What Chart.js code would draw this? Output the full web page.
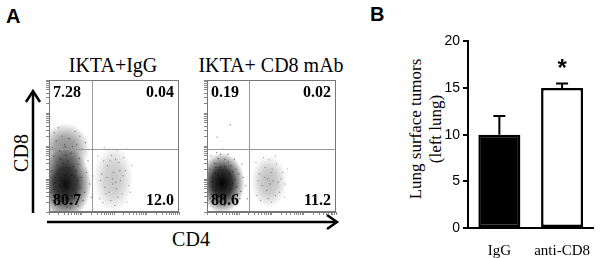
<!DOCTYPE html>
<html>
<head>
<meta charset="utf-8">
<script src="https://cdn.jsdelivr.net/npm/chart.js@4.4.0/dist/chart.umd.min.js"></script>
<style>
  html, body { margin: 0; padding: 0; background: #fff; }
  #fig { position: relative; width: 601px; height: 258px; overflow: hidden; }
  canvas, svg, .lbl { position: absolute; }
  .lbl { white-space: nowrap; line-height: 1; color: #000; }
  .serif { font-family: "Liberation Serif", "Times New Roman", serif; font-size: 20px; }
  .ytitle { font-family: "Liberation Serif", "Times New Roman", serif; font-size: 17px; }
  .panel { font-family: "Liberation Sans", Arial, sans-serif; font-weight: bold; font-size: 20px; }
</style>
</head>
<body>
<div id="fig">
  <svg width="601" height="258" style="left:0;top:0">
    <g stroke="#000" stroke-width="2.5" fill="none">
      <line x1="33" y1="213" x2="33" y2="92"/>
      <polyline points="26,102 33,91 40,102"/>
      <line x1="47" y1="222" x2="336" y2="222"/>
      <polyline points="327,215 337,222 327,229"/>
    </g>
  </svg>
  <div class="lbl panel" style="left:6px;top:6px">A</div>
  <div class="lbl panel" style="left:370px;top:4px">B</div>
  <div class="lbl serif" style="left:113px;top:55px;transform:translateX(-50%)">IKTA+IgG</div>
  <div class="lbl serif" style="left:271px;top:55px;transform:translateX(-50%)">IKTA+ CD8 mAb</div>
  <div class="lbl serif" style="left:21px;top:153px;transform:translate(-50%,-50%) rotate(-90deg)">CD8</div>
  <div class="lbl serif" style="left:191px;top:229px;transform:translateX(-50%)">CD4</div>
  <div class="lbl ytitle" style="left:415px;top:129px;transform:translate(-50%,-50%) rotate(-90deg)">Lung surface tumors</div>
  <div class="lbl ytitle" style="left:435px;top:129px;transform:translate(-50%,-50%) rotate(-90deg)">(left lung)</div>
  <canvas id="iggPlot" width="149" height="146" style="left:40px;top:74px"></canvas>
  <canvas id="cd8Plot" width="148" height="146" style="left:198px;top:74px"></canvas>
  <canvas id="barPlot" width="191" height="228" style="left:405px;top:30px"></canvas>
</div>
<script>
// Panel A: flow plots, CD4 (x) vs CD8 (y), in log decades 0..4
const iggQuads = ['7.28', '0.04', '80.7', '12.0'];   // UL, UR, LL, LR
const cd8Quads = ['0.19', '0.02', '88.6', '11.2'];
const iggGate = [1.32, 1.91];
const cd8Gate = [1.30, 1.91];

// density summaries of each population (centre, spread, relative density)
const iggClouds = [
  { x: 0.50, y: 0.85, sx: 0.80, sy: 1.10, d: 0.95 },
  { x: 0.50, y: 1.90, sx: 0.75, sy: 0.80, d: 0.45 },
  { x: 1.98, y: 1.00, sx: 0.60, sy: 1.00, d: 0.22 }
];
const cd8Clouds = [
  { x: 0.47, y: 0.88, sx: 0.70, sy: 0.92, d: 1.0 },
  { x: 1.92, y: 0.92, sx: 0.55, sy: 0.80, d: 0.25 }
];

const iggDN = [
  [0.12,0.35],[0.28,0.62],[0.45,0.28],[0.61,0.55],[0.78,0.41],[0.95,0.73],[0.18,0.88],[0.36,1.05],[0.52,0.82],[0.70,1.12],
  [0.88,0.95],[1.10,0.60],[0.08,1.25],[0.24,1.42],[0.41,1.30],[0.58,1.55],[0.76,1.38],[0.93,1.62],[1.15,1.20],[0.15,1.70],
  [0.33,1.85],[0.50,1.98],[0.68,1.78],[0.85,2.05],[1.02,1.90],[0.22,2.15],[0.40,2.30],[0.62,2.22],[0.80,2.45],[0.30,2.55],
  [0.05,0.60],[0.20,0.20],[0.38,0.45],[0.55,0.15],[0.72,0.25],[0.90,0.18],[1.05,0.35],[1.25,0.85],[1.30,0.45],[1.20,1.55],
  [0.46,0.66],[0.32,0.78],[0.64,0.92],[0.27,1.15],[0.49,1.10],[0.83,1.25],[0.60,0.38],[0.14,0.50],[0.74,0.68],[0.40,0.95],
  [0.56,1.35],[0.36,1.60],[0.10,1.95],[0.72,1.98],[0.95,2.30],[0.48,2.05],[1.12,2.10],[0.26,0.35],[0.66,0.12],[0.84,0.58],
  [0.44,1.48],[0.20,1.05],[1.00,1.05],[0.58,0.72],[0.34,0.22],[0.52,1.72],[0.16,2.40],[0.90,1.45],[1.35,1.10],[0.70,0.50]
];
const iggCD4 = [
  [1.55,0.40],[1.72,0.75],[1.90,0.35],[2.05,0.90],[2.25,0.55],[2.45,0.80],[1.62,1.15],[1.80,1.40],[1.98,1.20],[2.15,1.50],
  [2.35,1.25],[1.50,1.70],[1.70,1.95],[1.92,1.72],[2.10,1.88],[2.30,1.65],[1.85,0.60],[2.02,0.20],[2.20,0.95],[2.55,1.40],
  [1.66,0.28],[1.78,1.05],[1.96,0.85],[2.12,0.45],[2.40,0.30],[1.58,0.95],[2.28,1.10],[2.05,1.60],[1.88,1.55],[2.50,0.60],
  [1.75,0.55],[2.18,1.25],[1.95,1.00],[2.08,0.70],[1.68,1.55],[2.38,1.90]
];
const cd8DN = [
  [0.10,0.40],[0.26,0.65],[0.42,0.30],[0.58,0.58],[0.75,0.42],[0.92,0.75],[0.16,0.92],[0.34,1.10],[0.50,0.85],[0.68,1.15],
  [0.85,0.98],[1.05,0.62],[0.08,1.30],[0.24,1.48],[0.40,1.35],[0.56,1.60],[0.74,1.40],[0.90,1.30],[1.12,1.05],[0.30,1.80],
  [0.48,1.90],[0.65,1.75],[0.20,0.25],[0.36,0.48],[0.54,0.20],[0.70,0.28],[0.88,0.22],[1.02,0.40],[1.20,0.80],[1.25,0.40],
  [0.45,0.68],[0.30,0.82],[0.62,0.95],[0.25,1.18],[0.47,1.12],[0.80,1.22],[0.60,0.40],[0.13,0.55],[0.72,0.70],[0.38,0.98],
  [0.55,1.38],[0.35,1.62],[0.12,1.70],[0.85,1.60],[0.44,0.22],[0.98,1.15],[0.58,0.75],[0.32,0.35],[0.66,1.52],[0.18,1.05],
  [0.78,0.88],[0.52,1.02],[0.28,1.35],[1.08,1.45],[0.95,0.55],[0.42,1.75],[0.72,2.64],[0.31,2.27]
];
const cd8CD4 = [
  [1.55,0.50],[1.72,0.80],[1.90,0.40],[2.05,0.95],[2.25,0.60],[2.42,0.85],[1.62,1.15],[1.80,1.35],[1.98,1.20],[2.15,1.45],
  [2.35,1.20],[1.52,1.50],[1.75,1.65],[1.92,1.58],[2.12,1.70],[2.30,1.00],[1.85,0.65],[2.00,0.30],[2.20,0.90],[2.50,1.30],
  [1.66,0.35],[1.78,1.05],[1.96,0.85],[2.12,0.50],[2.40,0.45],[1.58,0.95],[1.88,1.00],[2.02,1.30]
];

// Panel B: bar chart
const barLabels = ['IgG', 'anti-CD8'];
const barMeans = [10, 15];
const barErr = [2, 0.5];
const barSig = ['', '*'];

function decadeTicks(scale) {
  const ticks = [];
  for (let d = 0; d < 4; d++) {
    for (let k = 1; k < 10; k++) ticks.push({ value: d + Math.log10(k) });
  }
  ticks.push({ value: 4 });
  scale.ticks = ticks;
}

function makeFlowPlugin(clouds, gate, quads) {
  return {
    id: 'flow',
    beforeDatasetsDraw(chart) {
      const { ctx, chartArea: a, scales: { x, y } } = chart;
      ctx.save();
      ctx.beginPath();
      ctx.rect(a.left, a.top, a.width, a.height);
      ctx.clip();
      clouds.forEach(c => {
        const cx = x.getPixelForValue(c.x), cy = y.getPixelForValue(c.y);
        const rx = Math.abs(x.getPixelForValue(c.x + c.sx) - cx);
        const ry = Math.abs(y.getPixelForValue(c.y + c.sy) - cy);
        ctx.save();
        ctx.translate(cx, cy);
        ctx.scale(1, ry / rx);
        const g = ctx.createRadialGradient(0, 0, 0, 0, 0, rx);
        g.addColorStop(0, `rgba(0,0,0,${c.d})`);
        g.addColorStop(0.45, `rgba(0,0,0,${c.d * 0.8})`);
        g.addColorStop(0.8, `rgba(0,0,0,${c.d * 0.3})`);
        g.addColorStop(1, 'rgba(0,0,0,0)');
        ctx.fillStyle = g;
        ctx.beginPath();
        ctx.arc(0, 0, rx, 0, Math.PI * 2);
        ctx.fill();
        ctx.restore();
      });
      ctx.restore();
    },
    afterDatasetsDraw(chart) {
      const { ctx, chartArea: a, scales: { x, y } } = chart;
      const gx = Math.round(x.getPixelForValue(gate[0])) + 0.5;
      const gy = Math.round(y.getPixelForValue(gate[1])) + 0.5;
      ctx.save();
      ctx.strokeStyle = '#999';
      ctx.lineWidth = 1;
      ctx.beginPath();
      ctx.moveTo(gx, a.top); ctx.lineTo(gx, a.bottom);
      ctx.moveTo(a.left, gy); ctx.lineTo(a.right, gy);
      ctx.stroke();
      ctx.strokeStyle = '#777';
      ctx.strokeRect(a.left + 0.5, a.top + 0.5, a.width - 1, a.height - 1);
      // quadrant percentages
      ctx.fillStyle = '#000';
      ctx.font = 'bold 16px "Liberation Serif"';
      ctx.textAlign = 'left';
      ctx.fillText(quads[0], a.left + 4, a.top + 17);
      ctx.fillText(quads[2], a.left + 4, a.bottom - 7);
      ctx.textAlign = 'right';
      ctx.fillText(quads[1], a.right - 5, a.top + 17);
      ctx.fillText(quads[3], a.right - 5, a.bottom - 7);
      ctx.restore();
    }
  };
}

function flowScale(isX) {
  return {
    type: 'linear', min: 0, max: 4,
    afterBuildTicks: decadeTicks,
    afterFit: s => { if (isX) s.height = 4; else s.width = 4; },
    ticks: { display: false },
    grid: { drawOnChartArea: false, tickLength: 3, color: '#888' },
    border: { color: '#777' }
  };
}

function flowChart(id, dn, cd4, clouds, gate, quads) {
  const toPts = arr => arr.map(p => ({ x: p[0], y: p[1] }));
  return new Chart(document.getElementById(id), {
    type: 'scatter',
    data: {
      datasets: [
        { data: toPts(dn), backgroundColor: 'rgba(0,0,0,0.5)', pointRadius: 0.7, borderWidth: 0 },
        { data: toPts(cd4), backgroundColor: 'rgba(0,0,0,0.35)', pointRadius: 0.7, borderWidth: 0 }
      ]
    },
    options: {
      responsive: false,
      animation: false,
      layout: { padding: { left: 5, top: 6, right: 10, bottom: 4 } },
      plugins: { legend: { display: false }, tooltip: { enabled: false } },
      scales: { x: flowScale(true), y: flowScale(false) }
    },
    plugins: [makeFlowPlugin(clouds, gate, quads)]
  });
}

flowChart('iggPlot', iggDN, iggCD4, iggClouds, iggGate, iggQuads);
flowChart('cd8Plot', cd8DN, cd8CD4, cd8Clouds, cd8Gate, cd8Quads);

const errorPlugin = {
  id: 'errorBars',
  afterDatasetsDraw(chart) {
    const { ctx, scales: { y } } = chart;
    const meta = chart.getDatasetMeta(0);
    ctx.save();
    ctx.strokeStyle = '#000';
    ctx.fillStyle = '#000';
    ctx.lineWidth = 2;
    meta.data.forEach((bar, i) => {
      const top = y.getPixelForValue(barMeans[i]);
      const hi = y.getPixelForValue(barMeans[i] + barErr[i]);
      ctx.beginPath();
      ctx.moveTo(bar.x, top); ctx.lineTo(bar.x, hi);
      ctx.moveTo(bar.x - 6, hi); ctx.lineTo(bar.x + 6, hi);
      ctx.stroke();
      if (barSig[i]) {
        ctx.font = 'bold 24px "Liberation Sans"';
        ctx.textAlign = 'center';
        ctx.fillText(barSig[i], bar.x, hi - 7);
      }
    });
    ctx.restore();
  }
};

new Chart(document.getElementById('barPlot'), {
  type: 'bar',
  data: {
    labels: barLabels,
    datasets: [{
      data: barMeans,
      backgroundColor: ['#000', '#fff'],
      borderColor: '#000',
      borderWidth: 2.5,
      borderSkipped: false,
      barPercentage: 0.67,
      categoryPercentage: 1
    }]
  },
  options: {
    responsive: false,
    animation: false,
    layout: { padding: { top: 10 } },
    plugins: { legend: { display: false }, tooltip: { enabled: false } },
    scales: {
      x: {
        grid: { display: false },
        border: { color: '#000', width: 2 },
        ticks: { color: '#000', font: { family: 'Liberation Serif', size: 15 }, padding: 6 },
        afterFit: s => { s.height = 30; }
      },
      y: {
        min: 0, max: 20,
        ticks: { stepSize: 5, color: '#000', font: { family: 'Liberation Sans', size: 14 }, padding: 3 },
        grid: { drawOnChartArea: false, tickLength: 5, color: '#000', lineWidth: 2 },
        border: { color: '#000', width: 2 },
        afterFit: s => { s.width = 63; }
      }
    }
  },
  plugins: [errorPlugin]
});
</script>
</body>
</html>
